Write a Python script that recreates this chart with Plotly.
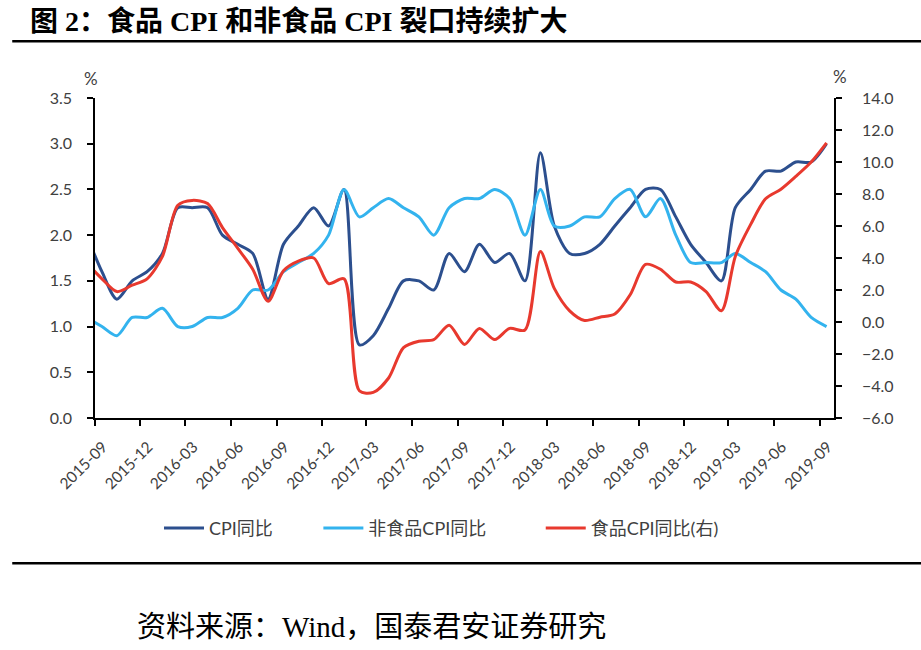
import plotly.graph_objects as go

months = ["2015-08", "2015-09", "2015-10", "2015-11", "2015-12",
          "2016-01", "2016-02", "2016-03", "2016-04", "2016-05", "2016-06",
          "2016-07", "2016-08", "2016-09", "2016-10", "2016-11", "2016-12",
          "2017-01", "2017-02", "2017-03", "2017-04", "2017-05", "2017-06",
          "2017-07", "2017-08", "2017-09", "2017-10", "2017-11", "2017-12",
          "2018-01", "2018-02", "2018-03", "2018-04", "2018-05", "2018-06",
          "2018-07", "2018-08", "2018-09", "2018-10", "2018-11", "2018-12",
          "2019-01", "2019-02", "2019-03", "2019-04", "2019-05", "2019-06",
          "2019-07", "2019-08", "2019-09"]

cpi = [2.0, 1.6, 1.3, 1.5, 1.6,
       1.8, 2.3, 2.3, 2.3, 2.0, 1.9, 1.8, 1.3, 1.9, 2.1, 2.3, 2.1,
       2.5, 0.8, 0.9, 1.2, 1.5, 1.5, 1.4, 1.8, 1.6, 1.9, 1.7, 1.8,
       1.5, 2.9, 2.1, 1.8, 1.8, 1.9, 2.1, 2.3, 2.5, 2.5, 2.2, 1.9,
       1.7, 1.5, 2.3, 2.5, 2.7, 2.7, 2.8, 2.8, 3.0]

nonfood_cpi = [1.1, 1.0, 0.9, 1.1, 1.1,
               1.2, 1.0, 1.0, 1.1, 1.1, 1.2, 1.4, 1.4, 1.6, 1.7, 1.8, 2.0,
               2.5, 2.2, 2.3, 2.4, 2.3, 2.2, 2.0, 2.3, 2.4, 2.4, 2.5, 2.4,
               2.0, 2.5, 2.1, 2.1, 2.2, 2.2, 2.4, 2.5, 2.2, 2.4, 2.0, 1.7,
               1.7, 1.7, 1.8, 1.7, 1.6, 1.4, 1.3, 1.1, 1.0]

food_cpi = [3.7, 2.7, 1.9, 2.3, 2.7,
            4.1, 7.3, 7.6, 7.4, 5.9, 4.6, 3.3, 1.3, 3.2, 3.8, 4.0, 2.4,
            2.7, -4.3, -4.4, -3.5, -1.6, -1.2, -1.1, -0.2, -1.4, -0.4, -1.1, -0.4,
            -0.5, 4.4, 2.1, 0.7, 0.1, 0.3, 0.5, 1.7, 3.6, 3.3, 2.5, 2.5,
            1.9, 0.7, 4.1, 6.1, 7.7, 8.3, 9.1, 10.0, 11.2]

series_names = ["CPI同比", "非食品CPI同比", "食品CPI同比(右)"]
left_ticks = [0.0, 0.5, 1.0, 1.5, 2.0, 2.5, 3.0, 3.5]
right_ticks = [-6.0, -4.0, -2.0, 0.0, 2.0, 4.0, 6.0, 8.0, 10.0, 12.0, 14.0]

# each monthly observation sits mid-month on the date axis
x = [m + "-15" for m in months]

C_CPI = "#2C4F8E"
C_NONFOOD = "#33B3EE"
C_FOOD = "#E8392E"

PAD1 = "\u2003\u2003\u2003"          # legend spacing between entries
PAD2 = "\u2003\u2003\u2003\u2002"

fig = go.Figure()
fig.add_trace(go.Scatter(x=x, y=cpi, name=series_names[0] + PAD1, mode="lines",
                         line=dict(color=C_CPI, width=3, shape="spline", smoothing=0.8)))
fig.add_trace(go.Scatter(x=x, y=nonfood_cpi, name=series_names[1] + PAD2, mode="lines",
                         line=dict(color=C_NONFOOD, width=3, shape="spline", smoothing=0.8)))
fig.add_trace(go.Scatter(x=x, y=food_cpi, name=series_names[2], mode="lines", yaxis="y2",
                         line=dict(color=C_FOOD, width=3, shape="spline", smoothing=0.8)))

tickfont = dict(family="Lato, 'Noto Sans CJK SC', sans-serif", size=16, color="#404040")
axis_common = dict(showgrid=False, zeroline=False, showline=True, linecolor="black", linewidth=1.5,
                   ticks="outside", ticklen=6, tickwidth=1.5, tickcolor="black", automargin=False)

fig.update_layout(
    width=921, height=650,
    margin=dict(l=95, r=87, t=98, b=232, pad=0),
    paper_bgcolor="white", plot_bgcolor="white",
    showlegend=True,
    legend=dict(orientation="h", x=0.0866, y=-0.345, xanchor="left", yanchor="middle",
                font=dict(family="Lato, 'Noto Sans CJK SC', sans-serif", size=18, color="#404040"),
                bgcolor="rgba(0,0,0,0)", itemwidth=40, tracegroupgap=0),
    xaxis=dict(type="date", range=["2015-09-01", "2019-09-30"],
               tick0="2015-09-01", dtick="M3", tickformat="%Y-%m", tickangle=-45,
               ticklabelshift=8, ticklabelstandoff=6,
               tickfont=dict(family="Lato, sans-serif", size=15.5, color="#404040"),
               **axis_common),
    yaxis=dict(range=[0, 3.5], tickvals=left_ticks, tickformat=".1f",
               ticklabelstandoff=12, tickfont=tickfont, **axis_common),
    yaxis2=dict(range=[-6, 14], tickvals=right_ticks, tickformat=".1f", overlaying="y", side="right",
                ticklabelstandoff=17, tickfont=tickfont, **axis_common),
)

# title, rules, unit labels and source
fig.add_annotation(text="<b>图 2：食品 CPI 和非食品 CPI 裂口持续扩大</b>", xref="paper", yref="paper",
                   x=-0.0907, y=1.24, xanchor="left", yanchor="middle", showarrow=False,
                   font=dict(family="'Liberation Serif', 'Noto Sans CJK SC', serif", size=28, color="black"))
fig.add_shape(type="line", xref="paper", yref="paper", x0=-0.112, x1=1.12, y0=1.177, y1=1.177,
              line=dict(color="black", width=2.5))
fig.add_shape(type="line", xref="paper", yref="paper", x0=-0.112, x1=1.12, y0=-0.454, y1=-0.454,
              line=dict(color="black", width=2.5))
fig.add_annotation(text="%", xref="paper", yref="paper", x=-0.005, y=1.062,
                   xanchor="center", yanchor="middle", showarrow=False,
                   font=dict(family="Lato, sans-serif", size=17, color="#404040"))
fig.add_annotation(text="%", xref="paper", yref="paper", x=1.008, y=1.068,
                   xanchor="center", yanchor="middle", showarrow=False,
                   font=dict(family="Lato, sans-serif", size=17, color="#404040"))
fig.add_annotation(text="资料来源：Wind，国泰君安证券研究", xref="paper", yref="paper",
                   x=0.054, y=-0.654, xanchor="left", yanchor="middle", showarrow=False,
                   font=dict(family="'Liberation Serif', 'Noto Sans CJK SC', serif", size=29, color="black"))

# remove the browser's default 8px page margin so the 921x650 figure fills the window exactly
fig.write_html("out.html", config={"displayModeBar": False},
               post_script="document.body.style.margin='0px';")
